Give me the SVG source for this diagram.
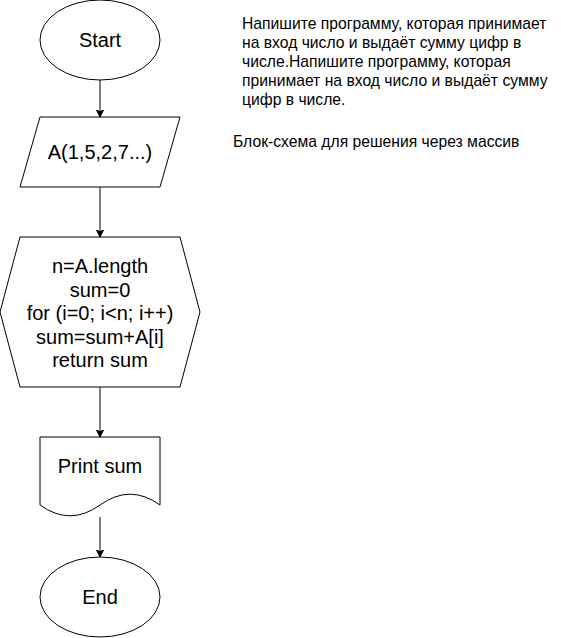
<svg xmlns="http://www.w3.org/2000/svg" width="561" height="638" viewBox="0 0 561 638">
<style>
.s{fill:#fff;stroke:#000;stroke-width:1}
.t{font-family:"Liberation Sans",Arial,sans-serif;font-size:20px;fill:#000;text-anchor:middle}
.n{font-family:"Liberation Sans",Arial,sans-serif;font-size:15.7px;fill:#000}
.c{fill:none;stroke:#000;stroke-width:1}
</style>
<defs>
<marker id="a" markerWidth="8" markerHeight="8" refX="7" refY="3.5" orient="auto" markerUnits="userSpaceOnUse">
<path d="M0,0 L7,3.5 L0,7 L1.75,3.5 Z" fill="#000" stroke="#000" stroke-width="1"/>
</marker>
</defs>
<rect width="561" height="638" fill="#fff"/>
<g id="connectors">
<path class="c" d="M100,80 V117" marker-end="url(#a)"/>
<path class="c" d="M100,187 V237" marker-end="url(#a)"/>
<path class="c" d="M100,387 V437" marker-end="url(#a)"/>
<path class="c" d="M100,517 V557" marker-end="url(#a)"/>
</g>
<g id="start">
<ellipse class="s" cx="100" cy="40" rx="60" ry="40"/>
<text class="t" x="100" y="47">Start</text>
</g>
<g id="input">
<polygon class="s" points="40,117 180,117 160,187 20,187"/>
<text class="t" x="100" y="159">A(1,5,2,7...)</text>
</g>
<g id="process">
<polygon class="s" points="20,237 180,237 200,312 180,387 20,387 0,312"/>
<text class="t" x="100" y="273.3">n=A.length</text>
<text class="t" x="100" y="296.7">sum=0</text>
<text class="t" x="100" y="320.1">for (i=0; i&lt;n; i++)</text>
<text class="t" x="100" y="343.5">sum=sum+A[i]</text>
<text class="t" x="100" y="366.9">return sum</text>
</g>
<g id="print">
<path class="s" d="M40,437 H160 V505 Q130,483.4 100,505 Q70,526.6 40,505 Z"/>
<text class="t" x="100" y="473">Print sum</text>
</g>
<g id="end">
<ellipse class="s" cx="100" cy="597" rx="60" ry="40"/>
<text class="t" x="100" y="604">End</text>
</g>
<g id="note">
<text class="n" x="242" y="29">Напишите программу, которая принимает</text>
<text class="n" x="242" y="48">на вход число и выдаёт сумму цифр в</text>
<text class="n" x="242" y="67">числе.Напишите программу, которая</text>
<text class="n" x="242" y="86">принимает на вход число и выдаёт сумму</text>
<text class="n" x="242" y="105">цифр в числе.</text>
</g>
<g id="caption">
<text class="n" x="233" y="147">Блок-схема для решения через массив</text>
</g>
</svg>
